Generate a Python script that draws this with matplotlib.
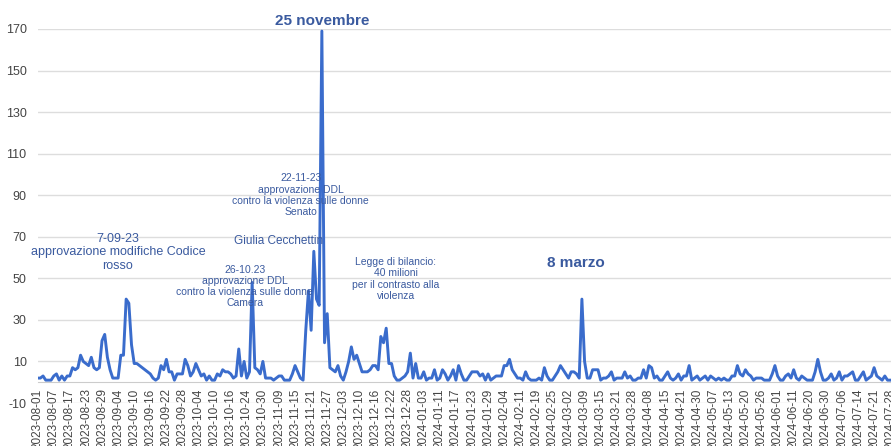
import matplotlib
matplotlib.use('Agg')
import matplotlib.pyplot as plt

plt.rcParams['font.family'] = ['Liberation Sans', 'DejaVu Sans']
plt.rcParams['axes.unicode_minus'] = False

# daily mentions, one value per day in the series (Aug 2023 - Jul 2024)
values = [2, 2, 3, 1, 1, 1, 3, 4, 1, 3, 1, 3, 3, 7, 6, 7, 13, 10, 9, 8,
          12, 7, 6, 7, 20, 23, 12, 6, 2, 2, 2, 13, 13, 40, 38, 18, 9, 9, 8, 7,
          6, 5, 4, 2, 1, 2, 8, 6, 11, 5, 5, 1, 4, 4, 4, 11, 8, 3, 5, 9,
          6, 3, 4, 1, 3, 1, 1, 4, 3, 6, 5, 5, 4, 2, 3, 16, 3, 10, 2, 5,
          48, 7, 6, 4, 10, 2, 2, 2, 1, 2, 3, 3, 1, 1, 1, 4, 8, 5, 2, 1,
          25, 44, 25, 63, 40, 37, 169, 19, 33, 7, 6, 5, 8, 3, 1, 5, 10, 17, 11, 13,
          9, 5, 5, 5, 6, 8, 8, 6, 22, 19, 26, 9, 9, 3, 1, 1, 2, 3, 5, 14,
          2, 9, 2, 2, 5, 1, 2, 2, 6, 1, 2, 6, 4, 1, 3, 6, 1, 8, 4, 1,
          1, 3, 5, 5, 5, 3, 4, 1, 4, 1, 2, 3, 3, 3, 8, 8, 11, 6, 4, 2,
          2, 1, 5, 2, 1, 1, 1, 2, 1, 7, 3, 1, 1, 3, 5, 8, 6, 4, 2, 5,
          5, 4, 2, 40, 10, 2, 2, 6, 6, 6, 1, 2, 2, 3, 5, 1, 2, 2, 2, 5,
          2, 3, 1, 1, 2, 2, 6, 2, 8, 7, 2, 3, 1, 1, 3, 5, 2, 1, 2, 4,
          1, 3, 3, 8, 1, 2, 3, 1, 2, 3, 1, 3, 2, 1, 2, 1, 2, 1, 1, 3,
          3, 8, 4, 3, 6, 4, 3, 1, 2, 2, 2, 1, 1, 1, 4, 8, 3, 1, 1, 3,
          4, 2, 6, 2, 1, 3, 2, 1, 1, 1, 5, 11, 5, 1, 1, 2, 4, 1, 2, 5,
          1, 3, 3, 4, 5, 1, 1, 3, 5, 1, 2, 3, 7, 3, 2, 1, 3, 1, 1]

# every sixth day gets a label
tick_labels = ['2023-08-01', '2023-08-07', '2023-08-17', '2023-08-23', '2023-08-29',
               '2023-09-04', '2023-09-10', '2023-09-16', '2023-09-22', '2023-09-28',
               '2023-10-04', '2023-10-10', '2023-10-16', '2023-10-24', '2023-10-30',
               '2023-11-09', '2023-11-15', '2023-11-21', '2023-11-27', '2023-12-03',
               '2023-12-10', '2023-12-16', '2023-12-22', '2023-12-28', '2024-01-03',
               '2024-01-11', '2024-01-17', '2024-01-23', '2024-01-29', '2024-02-04',
               '2024-02-11', '2024-02-19', '2024-02-25', '2024-03-02', '2024-03-09',
               '2024-03-15', '2024-03-21', '2024-03-28', '2024-04-08', '2024-04-15',
               '2024-04-21', '2024-04-30', '2024-05-07', '2024-05-13', '2024-05-20',
               '2024-05-26', '2024-06-01', '2024-06-11', '2024-06-20', '2024-06-30',
               '2024-07-06', '2024-07-14', '2024-07-21', '2024-07-28']

# (text, day index, y, size, bold)
notes = [
    ('25 novembre', 106.3, 173.8, 11, True),
    ('8 marzo', 200.6, 57.6, 11, True),
    ('7-09-23\napprovazione modifiche Codice\nrosso', 29.9, 62.5, 9, False),
    ('Giulia Cecchettin', 89.9, 67.9, 8.5, False),
    ('22-11-23\napprovazione DDL\ncontro la violenza sulle donne\nSenato', 98.1, 90.0, 7.5, False),
    ('26-10.23\napprovazione DDL\ncontro la violenza sulle donne\nCamera', 77.2, 46.0, 7.5, False),
    ('Legge di bilancio:\n40 milioni\nper il contrasto alla\nviolenza', 133.6, 49.7, 7.5, False),
]

fig = plt.figure(figsize=(8.91, 4.46), dpi=100)
ax = fig.add_axes([0.0423, 0.0964, 0.9577, 0.8386])

# move the x axis to y=0 first, it resets the ticks
for s in ['top', 'right', 'left']:
    ax.spines[s].set_visible(False)
ax.spines['bottom'].set_position(('data', 0))
ax.spines['bottom'].set_color('#cccccc')

x = list(range(len(values)))
ax.plot(x, values, color='#3a6ccc', linewidth=2.1, solid_joinstyle='round', zorder=3)

ax.set_ylim(-10, 170)
ax.set_xlim(0, 318.3)
ax.set_yticks(list(range(-10, 171, 20)))
ax.grid(axis='y', color='#dddddd', linewidth=1)
ax.set_axisbelow(True)

ax.set_xticks(x[::6])
ax.set_xticklabels(tick_labels)
ax.tick_params(axis='both', length=0, labelsize=9, colors='#444444')
ax.tick_params(axis='x', pad=4.5, labelrotation=90, labelsize=8.5)
ax.tick_params(axis='y', pad=8)

for txt, xi, yv, size, bold in notes:
    ax.text(xi, yv, txt, ha='center', va='center', fontsize=size,
            fontweight='bold' if bold else 'normal', color='#3a5a9f',
            linespacing=1.15, zorder=4)

fig.savefig('out.png', dpi=100)
